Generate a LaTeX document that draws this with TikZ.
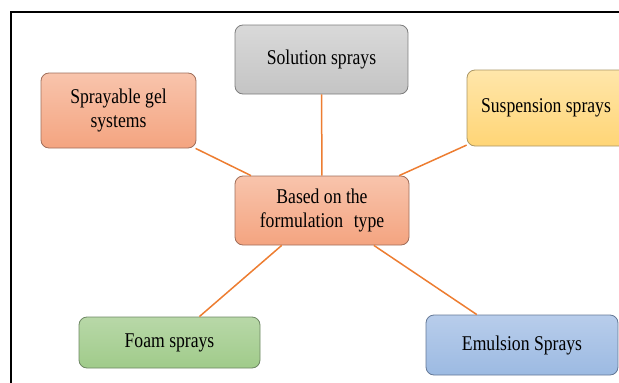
\documentclass[tikz,border=0pt]{standalone}
\usepackage{fontspec}
\setmainfont{Liberation Serif}[FakeStretch=0.84]
\definecolor{linkc}{HTML}{ED7D31}
\definecolor{greyE}{HTML}{7D7D7D}\definecolor{greyT}{HTML}{D9D9D9}\definecolor{greyB}{HTML}{C4C4C4}
\definecolor{salE}{HTML}{A06E5A}\definecolor{salT}{HTML}{F8C4AC}\definecolor{salB}{HTML}{F4A480}
\definecolor{goldE}{HTML}{AA9664}\definecolor{goldT}{HTML}{FFE6AA}\definecolor{goldB}{HTML}{FFD576}
\definecolor{leafE}{HTML}{6E8764}\definecolor{leafT}{HTML}{B8D8A8}\definecolor{leafB}{HTML}{A0CB8A}
\definecolor{skyE}{HTML}{647896}\definecolor{skyT}{HTML}{B8CDEB}\definecolor{skyB}{HTML}{9CBAE2}
\begin{document}
\begin{tikzpicture}[x=1pt,y=-1pt,
  box/.style={draw=#1, line width=0.8pt, rounded corners=8pt, align=center,
    inner sep=2pt, font=\fontsize{21}{24}\selectfont},
  link/.style={draw=linkc, line width=1.5pt},
  grey/.style={box=greyE, top color=greyT, bottom color=greyB},
  salmon/.style={box=salE, top color=salT, bottom color=salB},
  gold/.style={box=goldE, top color=goldT, bottom color=goldB},
  leaf/.style={box=leafE, top color=leafT, bottom color=leafB},
  sky/.style={box=skyE, top color=skyT, bottom color=skyB},
]
\useasboundingbox (0,0) rectangle (619,383);
\clip (0,0) rectangle (619,383);

% outer frame
\draw[line width=2.5pt] (11,400) -- (11,12) -- (640,12);

% category boxes
\node[salmon, minimum width=174pt, minimum height=69pt] (hub) at (322,210.5)
  {Based on the\\formulation\hspace{0.3em} type};
\node[grey, minimum width=173pt, minimum height=69pt] (sol) at (321.5,59.5) {Solution sprays};
\node[salmon, minimum width=155pt, minimum height=75pt] (gel) at (118.5,110.5) {Sprayable gel\\systems};
\node[gold, minimum width=164pt, minimum height=76pt] (susp) at (549,108) {\hspace*{-6pt}Suspension sprays};
\node[leaf, minimum width=181pt, minimum height=51pt] (foam) at (169.5,342.5) {Foam sprays};
\node[sky, minimum width=192pt, minimum height=60pt] (emul) at (522,345) {Emulsion Sprays};

% connectors from the hub
\draw[link] (hub) -- (sol);
\draw[link] (hub) -- (gel);
\draw[link] (hub) -- (susp);
\draw[link] (hub) -- (foam);
\draw[link] (hub) -- (emul);
\end{tikzpicture}
\end{document}
